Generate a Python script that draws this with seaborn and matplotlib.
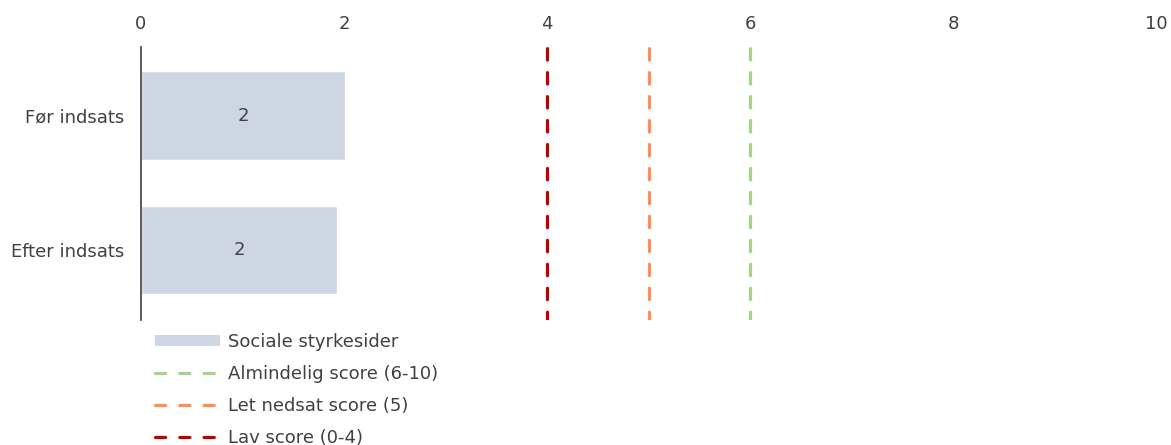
import matplotlib
matplotlib.use("Agg")
import matplotlib.pyplot as plt
from matplotlib.patches import Patch
from matplotlib.lines import Line2D
from matplotlib import font_manager
import seaborn as sns
import pandas as pd

# Data
categories = ["Før indsats", "Efter indsats"]
values = [2.01, 1.93]
series_name = "Sociale styrkesider"
thresholds = [6, 5, 4]
threshold_labels = ["Almindelig score (6-10)", "Let nedsat score (5)", "Lav score (0-4)"]
x_ticks = [0, 2, 4, 6, 8, 10]

bar_color = "#cfd6e3"
threshold_colors = ["#a9d18e", "#ff8c5a", "#c00000"]
text_color = "#404040"

sns.set_theme(style="white")
plt.rcParams["font.family"] = ["DejaVu Sans"]
plt.rcParams["font.sans-serif"] = ["DejaVu Sans"]
font = font_manager.FontProperties(family="DejaVu Sans", size=13)

df = pd.DataFrame({"kategori": categories, "score": values})

fig = plt.figure(figsize=(11.71, 4.45), dpi=100)
ax = fig.add_axes([141 / 1171, 1 - 320 / 445, (1156 - 141) / 1171, (320 - 47) / 445])

sns.barplot(data=df, x="score", y="kategori", orient="h", color=bar_color,
            width=0.657, saturation=1, ax=ax)
for t in ax.bar_label(ax.containers[0], fmt="%.0f", label_type="center",
                      color=text_color):
    t.set_fontproperties(font)

# Reference score thresholds as dashed vertical lines
for t, c in zip(thresholds, threshold_colors):
    ax.axvline(t, color=c, lw=2.3, ls=(1.0, (3.6, 3.9)), dash_capstyle="round")

ax.set_xlim(0, 10)
ax.set_ylim(1.52, -0.51)
ax.set_xticks(x_ticks)
ax.xaxis.tick_top()
ax.tick_params(axis="x", length=0, pad=10, labelcolor=text_color)
ax.tick_params(axis="y", length=0, pad=12, labelcolor=text_color)
for lab in ax.get_xticklabels() + ax.get_yticklabels():
    lab.set_fontproperties(font)
ax.set_xlabel("")
ax.set_ylabel("")
for s in ["top", "right", "bottom"]:
    ax.spines[s].set_visible(False)
ax.spines["left"].set_color("#404040")
ax.spines["left"].set_linewidth(1.2)

handles = [Patch(facecolor=bar_color, edgecolor="none")]
for lab, c in zip(threshold_labels, threshold_colors):
    handles.append(Line2D([0], [0], color=c, lw=2.3, ls=(0, (3.2, 4.4)),
                          dash_capstyle="round"))
labels = [series_name] + threshold_labels

leg = fig.legend(handles, labels, loc="upper left",
                 bbox_to_anchor=(155 / 1171, 1 - 333 / 445),
                 frameon=False, prop=font, handlelength=3.6,
                 handleheight=0.5, handletextpad=0.45, labelspacing=0.77,
                 borderaxespad=0, borderpad=0)
for txt in leg.get_texts():
    txt.set_color(text_color)

fig.savefig("out.png", dpi=100)
